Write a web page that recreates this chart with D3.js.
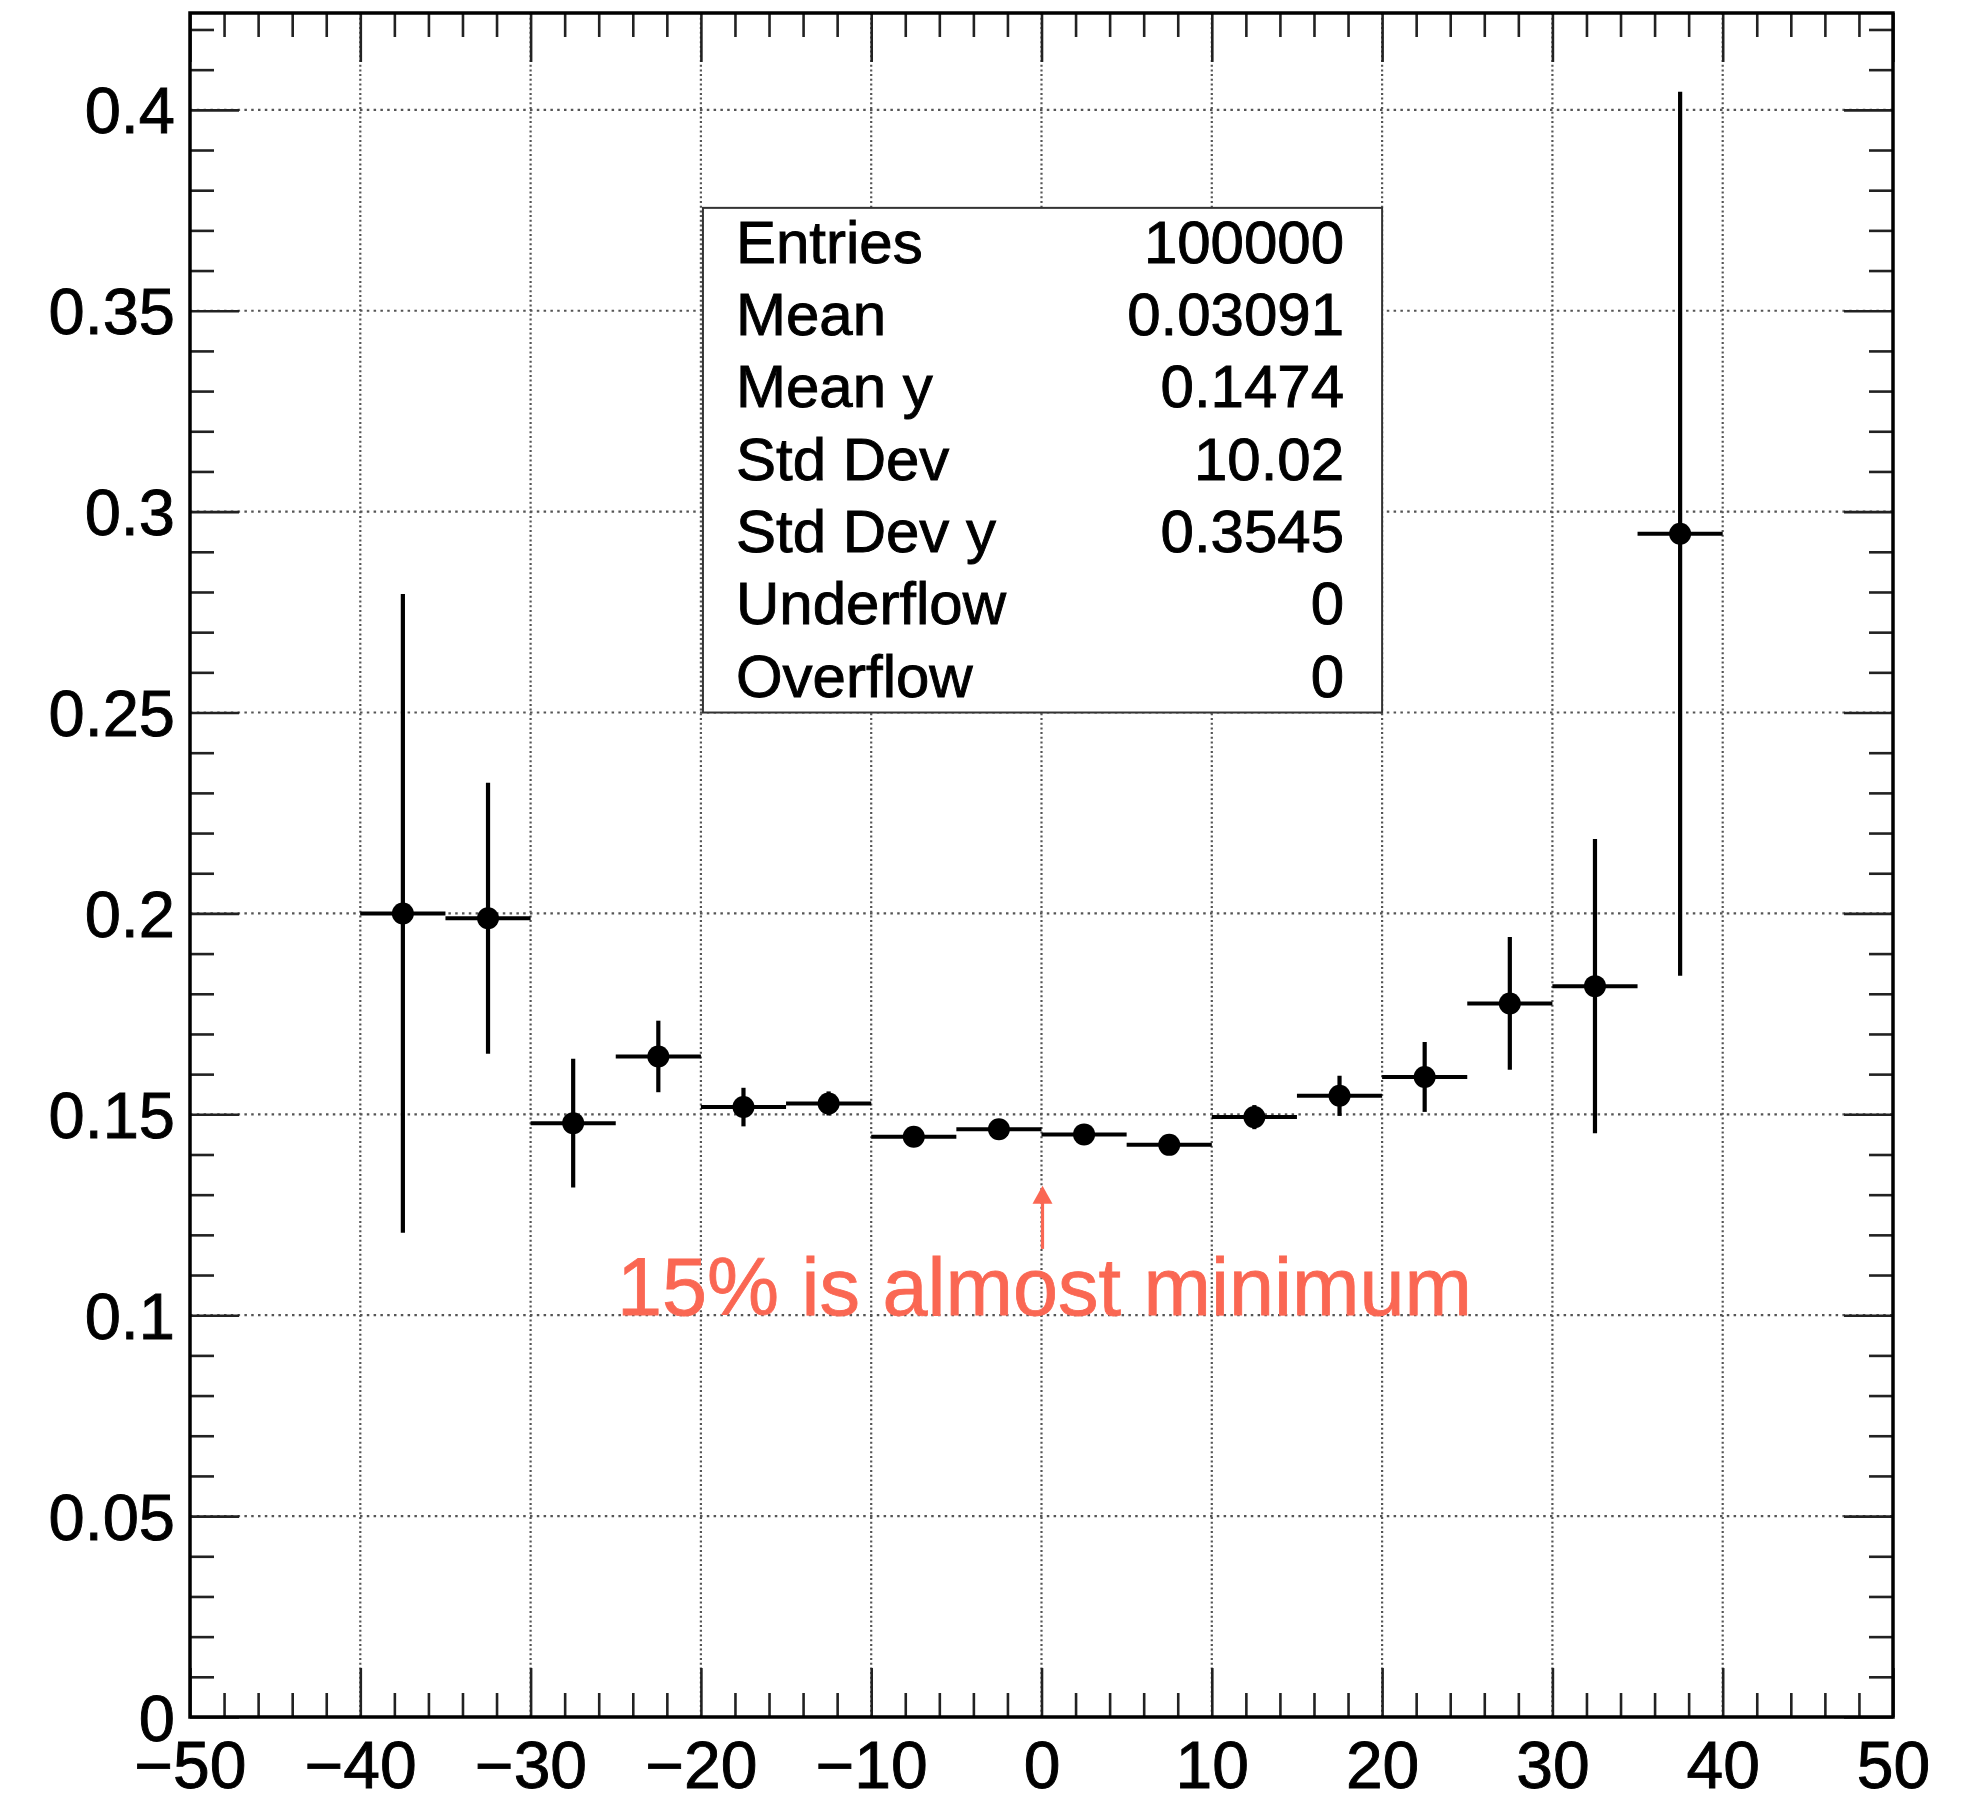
<!DOCTYPE html>
<html><head><meta charset="utf-8">
<script src="https://cdn.jsdelivr.net/npm/d3@7"></script>
<style>html,body{margin:0;padding:0;background:#fff}svg{display:block}</style>
</head><body>
<svg id="chart" width="1982" height="1801"></svg>
<script>
// ---- data ----
const binCenters = [-37.5,-32.5,-27.5,-22.5,-17.5,-12.5,-7.5,-2.5,2.5,7.5,12.5,17.5,22.5,27.5,32.5,37.5];
const binWidth = 5;
const values = [0.2000,0.1988,0.1478,0.1644,0.1518,0.1527,0.1444,0.1463,0.1450,0.1424,0.1493,0.1546,0.1593,0.1776,0.1819,0.2945];
const errors = [0.0795,0.0337,0.0160,0.0089,0.0048,0.0030,0.0020,0.0020,0.0020,0.0020,0.0030,0.0050,0.0087,0.0165,0.0366,0.1100];
const xMajorTicks = [-50,-40,-30,-20,-10,0,10,20,30,40,50];
const yMajorTicks = [0,0.05,0.1,0.15,0.2,0.25,0.3,0.35,0.4];
const statLabels = ["Entries","Mean","Mean y","Std Dev","Std Dev y","Underflow","Overflow"];
const statValues = ["100000","0.03091","0.1474","10.02","0.3545","0","0"];
const annotationText = "15% is almost minimum";
const annotationPoint = {x: 0, yText: 0.1, yArrowFrom: 0.1165, yArrowTo: 0.1322};

// ---- layout ----
const L = 190, R = 1893, T = 13, B = 1717;
const FONT = "'Liberation Sans', Arial, Helvetica, sans-serif";
const svg = d3.select("#chart");
const x = d3.scaleLinear().domain([-50, 50]).range([L, R]);
const y = d3.scaleLinear().domain([0, 0.4241]).range([B, T]);

const xMinor = d3.range(-50, 50.001, 2).filter(v => Math.abs(v % 10) > 1e-9);
const yMinor = d3.range(0, 0.4241, 0.01).map(v => +v.toFixed(3)).filter(v => Math.abs(Math.round(v*100) % 5) !== 0);

// grid
const grid = svg.append("g");
grid.selectAll("line.gx").data(xMajorTicks.filter(v => v > -50 && v < 50)).join("line")
  .attr("x1", d => x(d)).attr("x2", d => x(d)).attr("y1", T).attr("y2", B)
  .attr("stroke", "#555").attr("stroke-width", 2.2).attr("stroke-dasharray", "2,2.7");
grid.selectAll("line.gy").data(yMajorTicks.filter(v => v > 0)).join("line")
  .attr("x1", L).attr("x2", R).attr("y1", d => y(d)).attr("y2", d => y(d))
  .attr("stroke", "#555").attr("stroke-width", 2.2).attr("stroke-dasharray", "2.5,4.3");

// axes ticks
function styleAxis(g) {
  g.select(".domain").remove();
  g.selectAll(".tick line").attr("stroke", "#222").attr("stroke-width", 2.6);
  g.selectAll("text").attr("font-family", FONT).attr("fill", "#000")
    .attr("stroke", "#000").attr("stroke-width", 0.9);
}
const fmtY = d => d === 0 ? "0" : String(+d.toFixed(2));

svg.append("g").attr("transform", `translate(0,${B})`)
  .call(d3.axisBottom(x).tickValues(xMajorTicks).tickSize(-49).tickPadding(120).tickFormat(d3.format("d")))
  .call(styleAxis)
  .call(g => g.selectAll("text").attr("font-size", 66).attr("dy", null).attr("y", 71).attr("dominant-baseline", "alphabetic"));
svg.append("g").attr("transform", `translate(0,${B})`)
  .call(d3.axisBottom(x).tickValues(xMinor).tickSize(-24).tickFormat(""))
  .call(styleAxis);
svg.append("g").attr("transform", `translate(0,${T})`)
  .call(d3.axisTop(x).tickValues(xMajorTicks).tickSize(-49).tickFormat(""))
  .call(styleAxis);
svg.append("g").attr("transform", `translate(0,${T})`)
  .call(d3.axisTop(x).tickValues(xMinor).tickSize(-24).tickFormat(""))
  .call(styleAxis);

svg.append("g").attr("transform", `translate(${L},0)`)
  .call(d3.axisLeft(y).tickValues(yMajorTicks).tickSize(-49).tickFormat(fmtY))
  .call(styleAxis)
  .call(g => g.selectAll("text").attr("font-size", 65).attr("x", -15).attr("dy", "0.355em"));
svg.append("g").attr("transform", `translate(${L},0)`)
  .call(d3.axisLeft(y).tickValues(yMinor).tickSize(-24).tickFormat(""))
  .call(styleAxis);
svg.append("g").attr("transform", `translate(${R},0)`)
  .call(d3.axisRight(y).tickValues(yMajorTicks).tickSize(-49).tickFormat(""))
  .call(styleAxis);
svg.append("g").attr("transform", `translate(${R},0)`)
  .call(d3.axisRight(y).tickValues(yMinor).tickSize(-24).tickFormat(""))
  .call(styleAxis);

// stats box
const bx0 = x(-19.88), bx1 = x(20.0), by0 = y(0.3756), by1 = y(0.25);
const box = svg.append("g");
box.append("rect").attr("x", bx0).attr("y", by0).attr("width", bx1 - bx0).attr("height", by1 - by0)
  .attr("fill", "#fff").attr("stroke", "#333").attr("stroke-width", 2);
box.selectAll("text.lab").data(statLabels).join("text")
  .attr("x", bx0 + 33).attr("y", (d, i) => by0 + 55 + i * 72.3)
  .attr("font-family", FONT).attr("font-size", 60).attr("fill", "#000")
  .attr("stroke", "#000").attr("stroke-width", 0.9).text(d => d);
box.selectAll("text.val").data(statValues).join("text")
  .attr("x", bx1 - 38).attr("y", (d, i) => by0 + 55 + i * 72.3).attr("text-anchor", "end")
  .attr("font-family", FONT).attr("font-size", 60).attr("fill", "#000")
  .attr("stroke", "#000").attr("stroke-width", 0.9).text(d => d);

// data points with error bars
const pts = svg.append("g");
const data = binCenters.map((c, i) => ({c, v: values[i], e: errors[i]}));
pts.selectAll("line.h").data(data).join("line")
  .attr("x1", d => x(d.c - binWidth/2)).attr("x2", d => x(d.c + binWidth/2))
  .attr("y1", d => y(d.v)).attr("y2", d => y(d.v))
  .attr("stroke", "#000").attr("stroke-width", 4);
pts.selectAll("line.v").data(data).join("line")
  .attr("x1", d => x(d.c)).attr("x2", d => x(d.c))
  .attr("y1", d => y(d.v - d.e)).attr("y2", d => y(d.v + d.e))
  .attr("stroke", "#000").attr("stroke-width", 4.2);
pts.selectAll("circle").data(data).join("circle")
  .attr("cx", d => x(d.c)).attr("cy", d => y(d.v)).attr("r", 11).attr("fill", "#000");

// annotation
const RED = "#fa6753";
const ax = x(annotationPoint.x) + 1;
svg.append("line").attr("x1", ax).attr("x2", ax)
  .attr("y1", y(annotationPoint.yArrowFrom)).attr("y2", y(annotationPoint.yArrowTo) + 14)
  .attr("stroke", RED).attr("stroke-width", 3.2);
const tipY = y(annotationPoint.yArrowTo);
svg.append("path").attr("d", `M${ax},${tipY} L${ax-10},${tipY+18} L${ax+10},${tipY+18} Z`).attr("fill", RED);
svg.append("text").attr("x", x(annotationPoint.x) + 3).attr("y", y(annotationPoint.yText))
  .attr("text-anchor", "middle").attr("font-family", FONT).attr("font-size", 81).attr("fill", RED)
  .attr("stroke", RED).attr("stroke-width", 0.8)
  .text(annotationText);

// frame
svg.append("rect").attr("x", L).attr("y", T).attr("width", R - L).attr("height", B - T)
  .attr("fill", "none").attr("stroke", "#000").attr("stroke-width", 3.5);
</script>
</body></html>
